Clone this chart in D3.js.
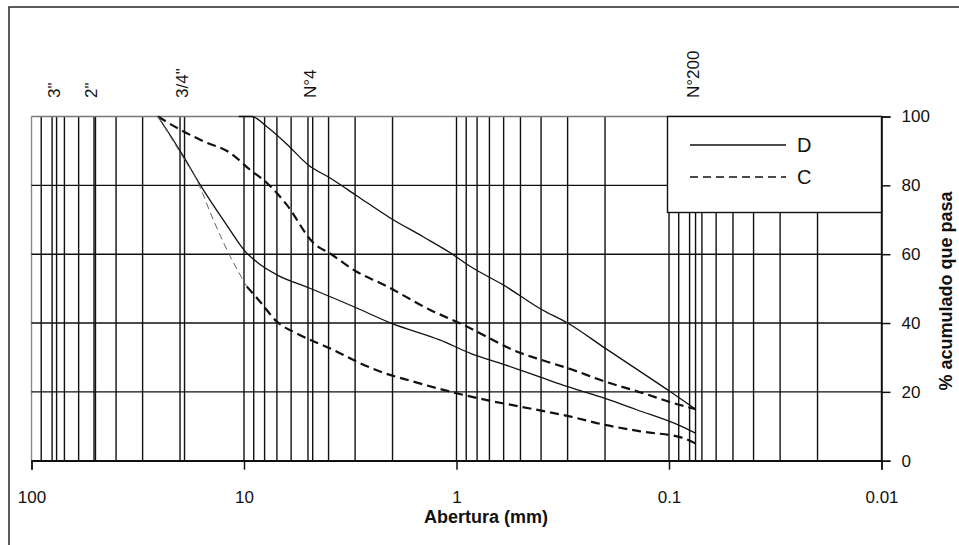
<!DOCTYPE html>
<html><head><meta charset="utf-8">
<script src="https://cdn.jsdelivr.net/npm/d3@7"></script>
<style>body{margin:0;background:#fff}svg{display:block}text{font-family:"Liberation Sans",Arial,sans-serif;fill:#111}</style>
</head><body><svg id="c" width="959" height="545"></svg>
<script>
// Data (size in mm, % passing)
const D_upper = [[10.6,100],[9.2,100],[7.8,97],[6.3,92],[5.0,86],[3.9,82],[2.95,77],[2.06,70.6],[1.43,65],[1.07,60.4],[0.86,56.4],[0.6,51],[0.4,44],[0.3,40],[0.2,32.7],[0.1,20.3],[0.075,15]];
const D_lower = [[25.4,100],[19.3,88.5],[16.1,80.2],[12.1,68.6],[9.9,60.9],[8.4,57],[7.0,54],[4.9,50.1],[3.06,44.8],[2.02,39.9],[1.2,35.1],[0.86,31.2],[0.6,28],[0.4,24.2],[0.3,21.5],[0.2,18.1],[0.142,14.8],[0.089,10.2],[0.075,8]];
const C_upper = [[25.4,100],[20,96.2],[15.5,92.8],[11.6,89.4],[9.4,84.6],[7.8,80.7],[6.3,74.4],[4.72,63.3],[3.87,59.9],[2.95,54.9],[2.21,51.2],[1.33,43.8],[0.93,39.5],[0.5,31.3],[0.4,29.3],[0.3,26.9],[0.2,23],[0.132,19.6],[0.095,16.7],[0.075,15]];
const C_lower = [[25.4,100],[19.3,88],[16.7,81.6],[13.95,70],[11.6,59.3],[9.7,50.6],[8.4,46.2],[7.0,40.4],[5.65,37],[3.8,32.2],[2.95,28.8],[2.29,25.9],[1.6,23],[1.0,19.6],[0.67,17.2],[0.5,15.7],[0.29,12.8],[0.2,10.4],[0.132,8.4],[0.087,6.7],[0.075,5]];
const sieves = [["3\"",76.2],["2\"",50.8],["3/4\"",19.05],["N°4",4.75],["N°200",0.075]];
const xTicks = [100,10,1,0.1,0.01];
const xTickLabels = ["100","10","1","0.1","0.01"];
const yTicks = [0,20,40,60,80,100];
const legendItems = [["D",false],["C",true]];

const svg = d3.select("#c");
const x = d3.scaleLog().domain([100,0.01]).range([31.5,881.5]);
const y = d3.scaleLinear().domain([0,100]).range([460.7,116.5]);

// outer border
svg.append("rect").attr("x",9).attr("y",7).attr("width",1000).attr("height",600)
  .attr("fill","none").attr("stroke","#333").attr("stroke-width",1.6);

// vertical grid
const vg = [];
[10,1,0.1,0.01].forEach(d=>{for(let k=1;k<=9;k++) vg.push(d*k);});
vg.push(100);
sieves.forEach(s=>vg.push(s[1]));
svg.append("g").selectAll("line").data(vg).join("line")
  .attr("x1",d=>x(d)).attr("x2",d=>x(d)).attr("y1",y(0)).attr("y2",y(100))
  .attr("stroke",d=>d===100?"#888":"#111").attr("stroke-width",1.4);
// horizontal grid
svg.append("g").selectAll("line").data(yTicks).join("line")
  .attr("x1",x(100)).attr("x2",x(0.01)).attr("y1",d=>y(d)).attr("y2",d=>y(d))
  .attr("stroke",d=>d===100?"#777":"#111").attr("stroke-width",1.4);

// bottom axis
const xa = d3.axisBottom(x).tickValues(xTicks).tickFormat((d,i)=>xTickLabels[i]).tickSize(9).tickPadding(21);
const gx = svg.append("g").attr("transform",`translate(0,${y(0)})`).call(xa);
gx.select(".domain").attr("stroke","#111").attr("stroke-width",1.5);
gx.selectAll(".tick line").attr("stroke","#111").attr("stroke-width",1.5);
gx.selectAll("text").attr("font-size",17).attr("fill","#111").attr("font-family","Liberation Sans, Arial");
// right axis
const ya = d3.axisRight(y).tickValues(yTicks).tickSize(9).tickPadding(11);
const gy = svg.append("g").attr("transform",`translate(${x(0.01)},0)`).call(ya);
gy.select(".domain").attr("stroke","#111").attr("stroke-width",1.5);
gy.selectAll(".tick line").attr("stroke","#111").attr("stroke-width",1.5);
gy.selectAll("text").attr("font-size",17).attr("fill","#111").attr("font-family","Liberation Sans, Arial");

svg.append("text").attr("x",486).attr("y",523).attr("text-anchor","middle")
  .attr("font-size",18).attr("font-weight","bold").text("Abertura (mm)");
svg.append("text").attr("transform","translate(952,291) rotate(-90)").attr("text-anchor","middle")
  .attr("font-size",18).attr("font-weight","bold").text("% acumulado que pasa");

// sieve labels
svg.append("g").selectAll("text").data(sieves).join("text")
  .attr("transform",d=>`translate(${x(d[1])+3},98) rotate(-90)`)
  .attr("font-size",17).text(d=>d[0]);

// curves
const line = d3.line().x(d=>x(d[0])).y(d=>y(d[1])).curve(d3.curveMonotoneX);
function draw(data,dash,w,col){
  svg.append("path").datum(data).attr("d",line).attr("fill","none")
    .attr("stroke",col).attr("stroke-width",w).attr("stroke-dasharray",dash);
}
draw(D_upper,null,1.3,"#111");
draw(D_lower,null,1.3,"#111");
draw(C_upper,"9,5",2.2,"#111");
draw(C_lower.slice(0,6),"7,4",1,"#666");
draw(C_lower.slice(5),"9,5",2.2,"#111");

// legend
const lg = svg.append("g");
lg.append("rect").attr("x",667.5).attr("y",116.5).attr("width",x(0.01)-667.5).attr("height",96)
  .attr("fill","#fff").attr("stroke","#111").attr("stroke-width",1.4);
legendItems.forEach((it,i)=>{
  const yy = 145 + i*32;
  lg.append("line").attr("x1",690).attr("x2",786).attr("y1",yy).attr("y2",yy)
    .attr("stroke","#111").attr("stroke-width",1.4).attr("stroke-dasharray",it[1]?"8,5":null);
  lg.append("text").attr("x",797).attr("y",yy+7).attr("font-size",20).text(it[0]);
});
</script></body></html>
